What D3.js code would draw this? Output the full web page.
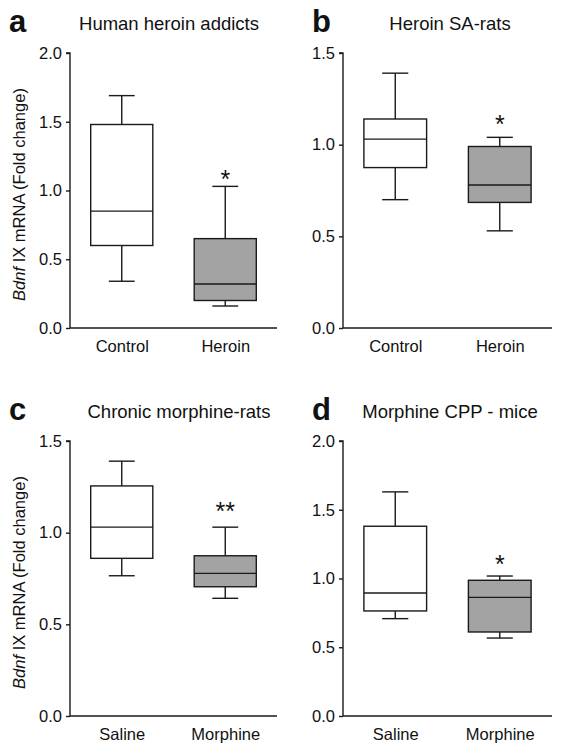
<!DOCTYPE html>
<html><head><meta charset="utf-8">
<script src="https://cdn.jsdelivr.net/npm/d3@7"></script>
<style>body{margin:0;background:#fff}svg{display:block}text{font-family:Arial,"Liberation Sans",sans-serif;fill:#111}</style>
</head><body><svg id="c" width="562" height="754"></svg>
<script>
// ---- data ----
const panelLetters = ["a","b","c","d"];
const panelTitles = ["Human heroin addicts","Heroin SA-rats","Chronic morphine-rats","Morphine CPP - mice"];
const groupsA = ["Control","Heroin"];
const groupsB = ["Control","Heroin"];
const groupsC = ["Saline","Morphine"];
const groupsD = ["Saline","Morphine"];
// [whiskerLow, Q1, median, Q3, whiskerHigh]
const boxesA = [[0.34,0.60,0.85,1.48,1.69],[0.16,0.20,0.32,0.65,1.03]];
const boxesB = [[0.70,0.875,1.03,1.14,1.39],[0.53,0.685,0.78,0.99,1.04]];
const boxesC = [[0.765,0.86,1.03,1.255,1.39],[0.642,0.705,0.778,0.874,1.03]];
const boxesD = [[0.708,0.764,0.895,1.38,1.63],[0.567,0.611,0.863,0.987,1.018]];
const signifA = ["","*"], signifB = ["","*"], signifC = ["","**"], signifD = ["","*"];
// height (in y units) of the significance mark baseline
const signifAtA = [null,1.02], signifAtB = [null,1.065], signifAtC = [null,1.07], signifAtD = [null,1.04];
const yMaxes = [2.0,1.5,1.5,2.0];
const ticksA = [0,0.5,1.0,1.5,2.0];
const ticksB = [0,0.5,1.0,1.5];
const ticksC = [0,0.5,1.0,1.5];
const ticksD = [0,0.5,1.0,1.5,2.0];
const yLabel = ["Bdnf"," IX mRNA (Fold change)"];
const fills = ["#ffffff","#a3a3a3"];

// ---- layout ----
const svg = d3.select("#c");
const panels = [
  {ox:0, oy:0, groups:groupsA, boxes:boxesA, sig:signifA, sigAt:signifAtA, ticks:ticksA, ylab:true},
  {ox:280, oy:0, groups:groupsB, boxes:boxesB, sig:signifB, sigAt:signifAtB, ticks:ticksB, ylab:false},
  {ox:0, oy:388, groups:groupsC, boxes:boxesC, sig:signifC, sigAt:signifAtC, ticks:ticksC, ylab:true},
  {ox:280, oy:388, groups:groupsD, boxes:boxesD, sig:signifD, sigAt:signifAtD, ticks:ticksD, ylab:false}
];
const stroke = "#1a1a1a", sw = 1.4;
const ff = "Arial, 'Liberation Sans', sans-serif";

panels.forEach((p,i)=>{
  const ax = p.ox + (i%2===0 ? 70 : 63);
  const axEnd = p.ox + (i%2===0 ? 277 : 272);
  const top = p.oy + 53, bot = p.oy + 328;
  const g = svg.append("g");
  const y = d3.scaleLinear().domain([0,yMaxes[i]]).range([bot,top]);
  const x = d3.scalePoint().domain(p.groups).range([ax,axEnd]).padding(0.5);
  const step = x.step();
  const bw = step*0.6, cw = step*0.25;

  // y axis
  const yAxis = d3.axisLeft(y).tickValues(p.ticks).tickFormat(d3.format(".1f")).tickSize(4).tickPadding(4);
  const ya = g.append("g").attr("transform",`translate(${ax},0)`).call(yAxis);
  ya.select(".domain").attr("stroke",stroke).attr("stroke-width",sw).attr("d",`M-4,${top}H0V${bot}`);
  ya.selectAll(".tick line").attr("stroke",stroke).attr("stroke-width",sw);
  ya.selectAll(".tick text").attr("font-size",16.5).attr("fill","#111").style("font-family",ff);
  // x axis
  const xAxis = d3.axisBottom(x).tickSize(0).tickPadding(12);
  const xa = g.append("g").attr("transform",`translate(0,${bot})`).call(xAxis);
  xa.select(".domain").attr("stroke",stroke).attr("stroke-width",sw).attr("d",`M${ax},0H${axEnd}`);
  xa.selectAll(".tick text").attr("font-size",16.5).attr("fill","#111").style("font-family",ff);

  // boxes
  p.groups.forEach((grp,j)=>{
    const [lo,q1,med,q3,hi] = p.boxes[j];
    const cx = x(grp);
    const bg = g.append("g").attr("stroke",stroke).attr("stroke-width",sw);
    bg.append("line").attr("x1",cx).attr("x2",cx).attr("y1",y(hi)).attr("y2",y(q3));
    bg.append("line").attr("x1",cx).attr("x2",cx).attr("y1",y(q1)).attr("y2",y(lo));
    bg.append("line").attr("x1",cx-cw/2).attr("x2",cx+cw/2).attr("y1",y(hi)).attr("y2",y(hi));
    bg.append("line").attr("x1",cx-cw/2).attr("x2",cx+cw/2).attr("y1",y(lo)).attr("y2",y(lo));
    bg.append("rect").attr("x",cx-bw/2).attr("width",bw).attr("y",y(q3)).attr("height",y(q1)-y(q3)).attr("fill",fills[j]);
    bg.append("line").attr("x1",cx-bw/2).attr("x2",cx+bw/2).attr("y1",y(med)).attr("y2",y(med));
    if (p.sig[j]) {
      g.append("text").attr("x",cx).attr("y",y(p.sigAt[j])).attr("text-anchor","middle")
        .attr("font-size",25).attr("fill","#333").text(p.sig[j]);
    }
  });

  // letter & title
  g.append("text").attr("x",p.ox+(i%2===0?9:32)).attr("y",p.oy+32).attr("font-size",31).attr("font-weight","bold").text(panelLetters[i]);
  g.append("text").attr("x",p.ox+(i%2===0?(i===0?169:179):170)).attr("y",p.oy+30).attr("text-anchor","middle").attr("font-size",18.5).text(panelTitles[i]);

  if (p.ylab) {
    const t = g.append("text").attr("transform",`translate(${p.ox+25},${(top+bot)/2 + 4}) rotate(-90)`).attr("text-anchor","middle").attr("font-size",16.5);
    t.append("tspan").attr("font-style","italic").text(yLabel[0]);
    t.append("tspan").text(yLabel[1]);
  }
});
</script></body></html>
